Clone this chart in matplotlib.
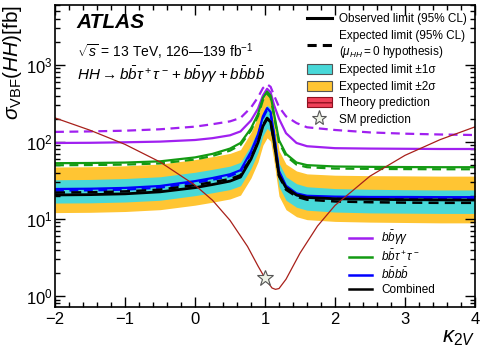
import matplotlib
matplotlib.use("Agg")
import matplotlib.pyplot as plt
from matplotlib.patches import Patch
from matplotlib.lines import Line2D
from matplotlib.ticker import LogLocator, MultipleLocator, NullFormatter

plt.rcParams['font.family'] = ['Liberation Sans', 'DejaVu Sans']
plt.rcParams['mathtext.fontset'] = 'custom'
plt.rcParams['mathtext.rm'] = 'Liberation Sans'
plt.rcParams['mathtext.it'] = 'Liberation Sans:italic'
plt.rcParams['mathtext.bf'] = 'Liberation Sans:bold'
plt.rcParams['hatch.linewidth'] = 1.0

# kappa_2V scan points
k2v = [-2, -1.5, -1, -0.5, 0, 0.25, 0.5, 0.65, 0.8, 0.9, 0.97, 1.03, 1.08, 1.13,
       1.2, 1.3, 1.45, 1.6, 2, 2.5, 3, 3.5, 4]

# combined limits [fb]
comb_exp = [22, 22.2, 22.8, 24, 27.5, 30, 33, 37, 62, 100, 165, 205, 185, 100,
            36, 24, 19.5, 17.8, 16.9, 16.5, 16.3, 16.2, 16.2]
comb_obs = [20.5, 20.7, 21.2, 22.5, 25.5, 28, 31, 35, 60, 98, 160, 200, 182, 100,
            37, 25.5, 20.5, 19, 18.3, 18, 17.8, 17.7, 17.6]
band_p1 = [32.3, 32.6, 33.5, 35.3, 40.4, 44.1, 48.5, 54.4, 91, 147, 243, 301, 272, 147,
           53, 35.3, 28.7, 26.2, 24.8, 24.3, 24.0, 23.8, 23.8]
band_p2 = [47.3, 47.7, 49, 51.6, 59, 64.5, 71, 79.6, 133, 215, 355, 441, 398, 215,
           77.4, 51.6, 42, 38.5, 37, 36.5, 36.3, 36, 36]
band_m1 = [16.1, 16.2, 16.6, 17.5, 20.1, 21.9, 24.1, 27, 45.3, 73, 120, 150, 135, 73,
           26.3, 17.5, 14.2, 13, 12.3, 12, 11.9, 11.8, 11.8]
band_m2 = [12.1, 12.2, 12.5, 13.2, 15.1, 16.5, 18.2, 20.4, 34.1, 55, 90.8, 113, 102, 55,
           19.8, 13.2, 10.7, 9.8, 9.3, 9.1, 9.0, 8.9, 8.9]

# individual channels
bbbb_obs = [24.5, 24.7, 25.3, 26.8, 31, 34, 38, 43, 75, 125, 215, 275, 245, 125,
            42, 27, 21.5, 20, 19.5, 19.3, 19.3, 19.2, 19.2]
bbbb_exp = [23.3, 23.5, 24, 25.5, 29.5, 32.3, 36.1, 40.9, 71, 119, 204, 261, 233, 119,
            40, 25.7, 20.4, 19, 18.5, 18.3, 18.3, 18.2, 18.2]
bbtt_obs = [53, 53.3, 54, 56, 63, 70, 82, 97, 150, 230, 370, 450, 400, 230,
            105, 70, 54, 50, 48, 47.5, 47.2, 47, 47]
bbtt_exp = [49.8, 50.1, 50.8, 52.6, 59.2, 65.8, 77.1, 91.2, 141, 216, 348, 423, 376, 216,
            98.7, 65.8, 50.8, 47, 45.1, 44.7, 44.4, 44.2, 44.2]
bbyy_obs = [97, 97.5, 99, 101, 106, 112, 122, 137, 190, 270, 400, 490, 440, 300,
            200, 130, 97, 88, 83, 82, 81.5, 81, 81]
bbyy_exp = [135, 137, 140, 146, 158, 170, 185, 205, 280, 380, 500, 560, 520, 400,
            285, 215, 176, 155, 143, 133, 128, 125, 123]

# theory prediction
k2v_th = [-2, -1.5, -1, -0.5, 0, 0.25, 0.5, 0.75, 0.9, 1.0, 1.1, 1.15, 1.2, 1.3,
          1.5, 1.75, 2, 2.5, 3, 3.5, 4]
theory = [205, 142, 93, 55, 27.5, 17.5, 9.6, 4.4, 2.45, 1.7, 1.27, 1.22, 1.25, 1.65,
          3.6, 8.1, 15, 36, 67, 107, 157]
sm_k2v, sm_xs = 1.0, 1.73

PURPLE = '#a020f0'
GREEN = '#139a13'
BLUE = '#0000ff'
CYAN = '#48d8d8'
YELLOW = '#ffc533'
RED = '#a8201a'

fig = plt.figure(figsize=(4.8, 3.51), dpi=100)
ax = fig.add_axes([0.1146, 0.1254, 0.875, 0.8604])

ax.fill_between(k2v, band_m2, band_p2, color=YELLOW, lw=0)
ax.fill_between(k2v, band_m1, band_p1, color=CYAN, lw=0)

ax.plot(k2v, bbyy_exp, color=PURPLE, lw=1.6, ls=(0, (4, 2.5)))
ax.plot(k2v, bbyy_obs, color=PURPLE, lw=1.6)
ax.plot(k2v, bbtt_exp, color=GREEN, lw=1.6, ls=(0, (4, 2.5)))
ax.plot(k2v, bbtt_obs, color=GREEN, lw=1.6)
ax.plot(k2v, bbbb_exp, color=BLUE, lw=1.6, ls=(0, (4, 2.5)))
ax.plot(k2v, bbbb_obs, color=BLUE, lw=1.6)
ax.plot(k2v, comb_exp, color='black', lw=1.8, ls=(0, (4, 2.5)))
ax.plot(k2v, comb_obs, color='black', lw=2.0)
ax.plot(k2v_th, theory, color=RED, lw=0.9)
ax.plot([sm_k2v], [sm_xs], marker='*', ms=12, mfc='#eef2e6', mec='#555555', mew=0.8, ls='none')

ax.set_xlim(-2, 4)
ax.set_yscale('log')
ax.set_ylim(0.72, 6000)
ax.xaxis.set_major_locator(MultipleLocator(1))
ax.xaxis.set_minor_locator(MultipleLocator(0.2))
ax.yaxis.set_major_locator(LogLocator(base=10, numticks=10))
ax.yaxis.set_minor_locator(LogLocator(base=10, subs=range(2, 10), numticks=20))
ax.yaxis.set_minor_formatter(NullFormatter())
ax.tick_params(which='both', direction='in', top=True, right=True, labelsize=12, width=1)
ax.tick_params(which='major', length=7)
ax.tick_params(which='minor', length=3.5)
ax.tick_params(axis='y', pad=2)
for s in ax.spines.values():
    s.set_linewidth(1.2)

ax.set_xlabel(r'$\kappa_{2V}$', loc='right', fontsize=16, labelpad=0)
ax.set_ylabel(r'$\sigma_{\mathrm{VBF}}(HH)[\mathrm{fb}]$', loc='top', fontsize=15, labelpad=1)

ax.text(0.052, 0.975, 'ATLAS', transform=ax.transAxes, fontsize=15,
        fontweight='bold', fontstyle='italic', va='top')
ax.text(0.052, 0.88, r'$\sqrt{s}$ = 13 TeV, 126—139 fb$^{-1}$', transform=ax.transAxes,
        fontsize=10, va='top')
ax.text(0.052, 0.805, r'$HH \rightarrow b\bar{b}\tau^+\tau^- + b\bar{b}\gamma\gamma + b\bar{b}b\bar{b}$',
        transform=ax.transAxes, fontsize=11, va='top')

h1 = [Line2D([], [], color='black', lw=2.2),
      Line2D([], [], color='black', lw=2.2, ls=(0, (3, 2))),
      Patch(facecolor=CYAN, edgecolor='#555555', lw=0.8),
      Patch(facecolor=YELLOW, edgecolor='#555555', lw=0.8),
      Patch(facecolor='#f04058', edgecolor='#901020', hatch='---', lw=0.8),
      Line2D([], [], marker='*', ms=11, mfc='#eef2e6', mec='#555555', mew=0.8, ls='none')]
l1 = ['Observed limit (95% CL)',
      'Expected limit (95% CL)\n($\\mu_{HH}=0$ hypothesis)',
      'Expected limit ±1σ',
      'Expected limit ±2σ',
      'Theory prediction',
      'SM prediction']
leg1 = ax.legend(h1, l1, loc='upper right', bbox_to_anchor=(1.0, 1.0), frameon=False,
                 fontsize=8.5, handlelength=2.1, handleheight=0.9, labelspacing=0.38,
                 handletextpad=0.6, borderaxespad=0.3)
ax.add_artist(leg1)

h2 = [Line2D([], [], color=PURPLE, lw=1.8),
      Line2D([], [], color=GREEN, lw=1.8),
      Line2D([], [], color=BLUE, lw=1.8),
      Line2D([], [], color='black', lw=1.8)]
l2 = [r'$b\bar{b}\gamma\gamma$', r'$b\bar{b}\tau^+\tau^-$', r'$b\bar{b}b\bar{b}$', 'Combined']
ax.legend(h2, l2, loc='lower right', bbox_to_anchor=(0.93, 0.0), frameon=False,
          fontsize=8.5, handlelength=1.9, labelspacing=0.2, handletextpad=0.8)

fig.savefig('out.png', dpi=100)
